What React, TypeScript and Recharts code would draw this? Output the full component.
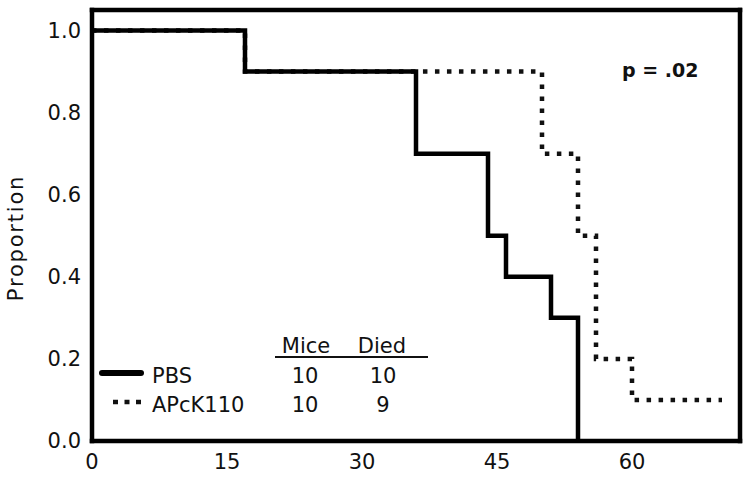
import { LineChart, Line, XAxis, YAxis } from "recharts";

const days = [0, 17, 36, 44, 46, 50, 51, 54, 56, 60, 70];
const pbs = [1, 0.9, 0.7, 0.5, 0.4, 0.4, 0.3, 0, null, null, null];
const apck110 = [1, 0.9, 0.9, 0.9, 0.9, 0.7, 0.7, 0.5, 0.2, 0.1, 0.1];
const xTicks = [0, 15, 30, 45, 60];
const yTicks = [0, 0.2, 0.4, 0.6, 0.8, 1.0];
const groups = ["PBS", "APcK110"];
const mice = [10, 10];
const died = [10, 9];
const pValue = "p = .02";

const data = days.map((t, i) => ({ t, pbs: pbs[i], apck: apck110[i] }));

const font = "DejaVu Sans";
const frame = { stroke: "#000", strokeWidth: 4.5, strokeLinecap: "square" as const };
const tickStyle = { fill: "#111", fontSize: 21, fontFamily: font };

const App = () => {
  return (
    <div style={{ position: "absolute", left: 0, top: 0, width: 750, height: 477, background: "#fff" }}>
      <LineChart width={750} height={477} data={data} margin={{ top: 9, right: 9, left: 0, bottom: 0 }}>
        <XAxis
          dataKey="t"
          type="number"
          domain={[0, 72]}
          ticks={xTicks}
          height={36}
          axisLine={frame}
          tickLine={false}
          tickSize={0}
          tickMargin={13}
          tick={tickStyle}
        />
        <XAxis xAxisId="top" orientation="top" type="number" domain={[0, 72]} height={1} axisLine={frame} tick={false} tickLine={false} />
        <YAxis
          type="number"
          domain={[0, 1.05]}
          ticks={yTicks}
          width={92}
          axisLine={frame}
          tickLine={false}
          tickSize={0}
          tickMargin={11}
          tick={tickStyle}
          tickFormatter={(v) => v.toFixed(1)}
        />
        <YAxis yAxisId="right" orientation="right" type="number" domain={[0, 1.05]} width={1} axisLine={frame} tick={false} tickLine={false} />
        <Line
          type="stepAfter"
          dataKey="apck"
          stroke="#111"
          strokeWidth={4.5}
          strokeDasharray="4.5 7.5"
          dot={false}
          isAnimationActive={false}
        />
        <Line type="stepAfter" dataKey="pbs" stroke="#000" strokeWidth={4.5} dot={false} isAnimationActive={false} />
      </LineChart>
      <svg width={750} height={477} style={{ position: "absolute", left: 0, top: 0, pointerEvents: "none" }}>
        <text
          transform="translate(23,238) rotate(-90)"
          textAnchor="middle"
          fontFamily={font}
          fontSize={21}
          letterSpacing={1.8}
          fill="#111"
        >
          Proportion
        </text>
        <text x={622} y={77} fontFamily={font} fontSize={19} fontWeight="bold" fill="#111">
          {pValue}
        </text>
        {/* legend table */}
        <g fontFamily={font} fontSize={21} fill="#111">
          <text x={306} y={353} textAnchor="middle">Mice</text>
          <text x={382} y={353} textAnchor="middle">Died</text>
          <line x1={275} x2={428} y1={357} y2={357} stroke="#111" strokeWidth={2} />
          <line x1={102} x2={141} y1={373} y2={373} stroke="#000" strokeWidth={6} strokeLinecap="round" />
          <line x1={113} x2={143} y1={402} y2={402} stroke="#111" strokeWidth={4.5} strokeDasharray="5 6.5" />
          {groups.map((g, i) => (
            <g key={g}>
              <text x={152} y={383 + i * 29}>{g}</text>
              <text x={305} y={383 + i * 29} textAnchor="middle">{mice[i]}</text>
              <text x={383} y={383 + i * 29} textAnchor="middle">{died[i]}</text>
            </g>
          ))}
        </g>
      </svg>
    </div>
  );
};

export default App;
